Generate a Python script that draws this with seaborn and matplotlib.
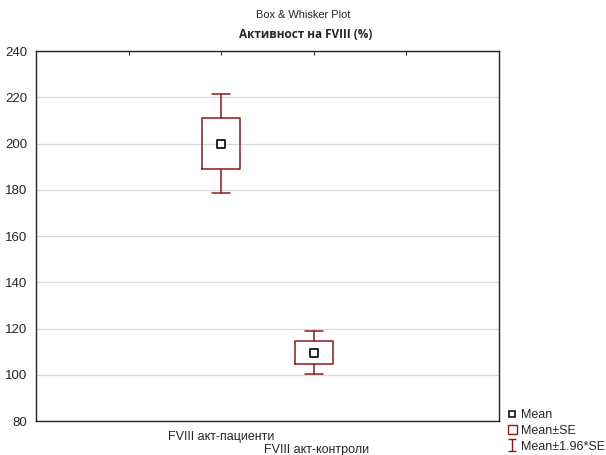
import numpy as np
import pandas as pd
import matplotlib
matplotlib.use("Agg")
import matplotlib.pyplot as plt
import matplotlib.transforms as mtransforms
import seaborn as sns
from matplotlib.lines import Line2D
from matplotlib.patches import Patch
from matplotlib.path import Path

categories = ["FVIII акт-пациенти", "FVIII акт-контроли"]
means = [200.0, 109.6]
se = [11.0, 4.8]

sns.set_style("white")
plt.rcParams["font.family"] = ["Liberation Sans", "DejaVu Sans"]

red = "#8b1a1a"
fig = plt.figure(figsize=(6.06, 4.55), dpi=100)
ax = fig.add_axes([36 / 606, 1 - 421 / 455, 463 / 606, 370 / 455])

pos = np.arange(1, len(categories) + 1)
stats = []
for c, m, s in zip(categories, means, se):
    stats.append(dict(med=m, q1=m - s, q3=m + s, whislo=m - 1.96 * s,
                      whishi=m + 1.96 * s, label=c, fliers=[]))
ax.bxp(stats, positions=pos, widths=0.41, showfliers=False,
       boxprops=dict(color=red, linewidth=1.1),
       whiskerprops=dict(color=red, linewidth=1.1),
       capprops=dict(color=red, linewidth=1.1),
       medianprops=dict(linewidth=0), capwidths=0.2)

df = pd.DataFrame({"pos": pos, "mean": means})
sns.scatterplot(data=df, x="pos", y="mean", marker="s", s=30,
                facecolor="white", edgecolor="black", linewidth=1.2,
                ax=ax, zorder=5, legend=False)

ax.set_xlim(-1, 4)
ax.set_ylim(80, 240)
ax.set_yticks(np.arange(80, 241, 20))
ax.set_xticks([0, 1, 2, 3])
ax.set_xticklabels(["", categories[0], categories[1], ""], fontsize=9)
ax.tick_params(axis="x", direction="in", top=True, length=3, pad=7, color="#333333")
ax.tick_params(axis="y", direction="out", length=3, labelsize=9.5, color="#333333")
# stagger the second category label one line lower
lab2 = ax.get_xticklabels()[2]
lab2.set_transform(lab2.get_transform() +
                   mtransforms.ScaledTranslation(3 / 100, -13 / 100, fig.dpi_scale_trans))
ax.yaxis.grid(True, color="#d9d9d9", linewidth=0.9)
ax.set_axisbelow(True)
ax.set_xlabel("")
ax.set_ylabel("")
for sp in ax.spines.values():
    sp.set_color("#222222")
    sp.set_linewidth(1.0)

fig.text(0.5, 1 - 15 / 455, "Box & Whisker Plot", ha="center", va="center", fontsize=7.9)
fig.text(306 / 606, 1 - 34 / 455, "Активност на FVIII (%)", ha="center", va="center",
         fontsize=8.5, fontweight="bold", family=["Open Sans", "DejaVu Sans"])

ibar = Path([(-0.8, 1), (0.8, 1), (0, 1), (0, -1), (-0.8, -1), (0.8, -1)],
            [Path.MOVETO, Path.LINETO, Path.MOVETO, Path.LINETO, Path.MOVETO, Path.LINETO])
handles = [
    Line2D([], [], marker="s", linestyle="none", markerfacecolor="white",
           markeredgecolor="black", markersize=4, markeredgewidth=1.1),
    Patch(facecolor="white", edgecolor=red, linewidth=1.0),
    Line2D([], [], marker=ibar, linestyle="none", color=red, markersize=8,
           markeredgewidth=1.0),
]
fig.legend(handles, ["Mean", "Mean±SE", "Mean±1.96*SE"], loc="lower left",
           bbox_to_anchor=(499 / 606, -0.014), frameon=False, fontsize=9,
           handlelength=0.7, handleheight=0.7, handletextpad=0.4,
           labelspacing=0.3, borderpad=0.2)

fig.savefig("out.png", dpi=100)
